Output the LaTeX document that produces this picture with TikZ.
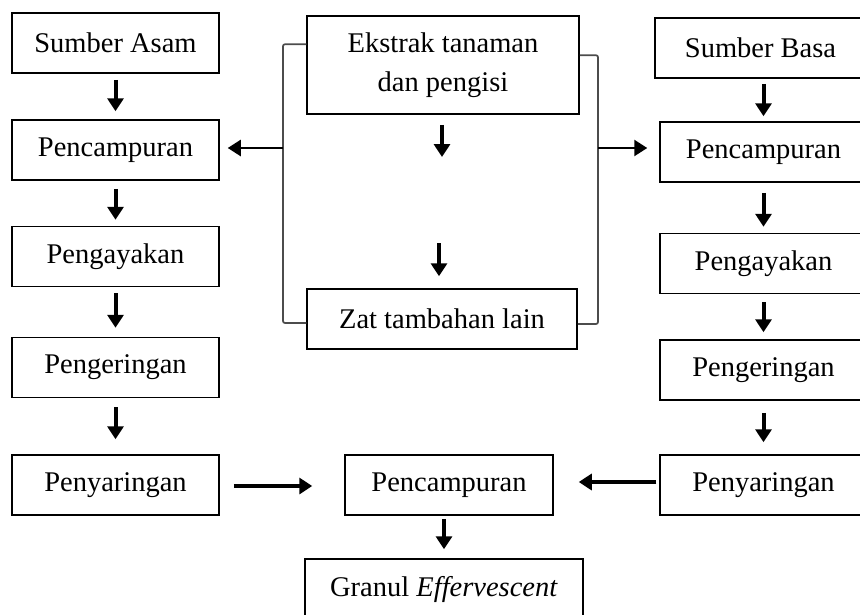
\documentclass[tikz,border=0pt]{standalone}
\usepackage{fontspec}
\setmainfont{Liberation Serif}
\usepackage{tikz}
\usetikzlibrary{arrows.meta, positioning, calc}

\begin{document}
\begin{tikzpicture}[x=1pt, y=-1pt,
    box/.style={draw, line width=1.5pt, minimum width=207pt, minimum height=60pt,
                inner sep=0pt, font=\fontsize{28.5}{39}\selectfont},
    arr/.style={-{Triangle[width=16pt,length=13pt]}, line width=4pt},
    bracket/.style={draw=black!70, line width=1.7pt, rounded corners=2pt}]
  \useasboundingbox (0,0) rectangle (860,614);

  % kolom asam
  \node[box] (asam)    at (115.5,43)  {Sumber Asam};
  \node[box] (mixL)    at (115.5,150) {Pencampuran};
  \node[box] (sieveL)  at (115.5,256.5) {Pengayakan};
  \node[box] (dryL)    at (115.5,367.5) {Pengeringan};
  \node[box] (filterL) at (115.5,485) {Penyaringan};

  % tengah
  \node[box, minimum width=272pt, minimum height=98pt, align=center]
        (ekstrak) at (443,65) {Ekstrak tanaman\\dan pengisi};
  \node[box, minimum width=270pt] (zat) at (442,319) {Zat tambahan lain};
  \node[box, minimum width=208pt] (mixM) at (449,485) {Pencampuran};
  \node[box, minimum width=278pt] (granul) at (444,589) {Granul \textit{Effervescent}};

  % kolom basa
  \node[box, minimum width=211pt] (basa) at (760.5,48) {Sumber Basa};
  \node[box] (mixR)    at (763.5,152) {Pencampuran};
  \node[box] (sieveR)  at (763.5,263.5) {Pengayakan};
  \node[box] (dryR)    at (763.5,370) {Pengeringan};
  \node[box] (filterR) at (763.5,485) {Penyaringan};

  % alur ke bawah
  \foreach \a/\b/\s/\e in {asam/mixL/6/8, mixL/sieveL/8/6, sieveL/dryL/6/9,
                           dryL/filterL/9/15, mixR/sieveR/10/6, sieveR/dryR/8/7,
                           dryR/filterR/12/12}
    \draw[arr, shorten <=\s pt, shorten >=\e pt] (\a) -- (\b);
  \draw[arr, shorten <=5pt, shorten >=5pt] (basa.south -| mixR) -- (mixR);
  \draw[arr, shorten <=3pt, shorten >=9pt] (mixM.south -| granul) -- (granul);

  % panah pendek di tengah
  \coordinate (midA) at (442,157);
  \coordinate (midB) at (439,243);
  \draw[arr, shorten <=10pt] (ekstrak.south -| midA) -- (midA);
  \draw[arr, shorten >=12pt] (midB) -- (zat.north -| midB);

  % kurung kiri dan kanan
  \coordinate (brL) at (283,148);
  \coordinate (brR) at (598,148);
  \draw[bracket] ($(ekstrak.north west)+(0,29)$) -| (brL) |- ($(zat.west)+(0,4)$);
  \draw[bracket] ($(ekstrak.north east)+(0,40)$) -| (brR) |- ($(zat.east)+(0,5)$);
  \draw[arr, line width=2.4pt, shorten >=8pt] (brL) -- (brL -| mixL.east);
  \draw[arr, line width=2.4pt, shorten >=12pt] (brR) -- (brR -| mixR.west);

  % gabungan
  \draw[arr, shorten <=14pt, shorten >=32pt] (filterL.east |- 0,486) -- (mixM.west |- 0,486);
  \draw[arr, shorten <=3pt, shorten >=25pt] (filterR.west |- 0,482) -- (mixM.east |- 0,482);
\end{tikzpicture}
\end{document}
